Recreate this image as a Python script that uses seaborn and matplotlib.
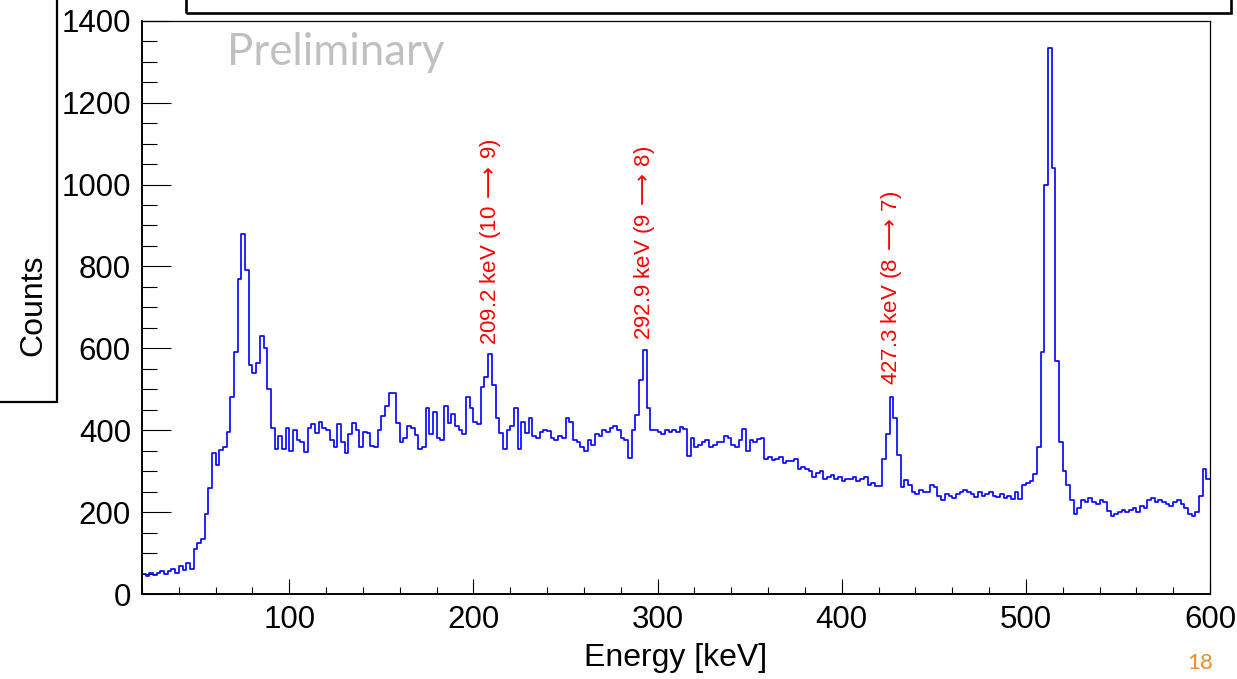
import numpy as np
import pandas as pd
import matplotlib
matplotlib.use("Agg")
import matplotlib.pyplot as plt
import seaborn as sns
from matplotlib.patches import Rectangle
from matplotlib.ticker import MultipleLocator

# spectrum, 2 keV bins from 20 to 600 keV
e_min = 20
e_max = 600
bin_width = 2
counts = [
    48, 45, 52, 46, 52, 55, 50, 57, 60, 52,            # 20-38
    68, 58, 75, 62, 110, 125, 135, 195, 260, 345,      # 40-58
    315, 352, 360, 395, 480, 590, 770, 880, 790, 560,  # 60-78
    540, 565, 630, 600, 500, 405, 355, 385, 355, 405,  # 80-98
    350, 400, 375, 370, 346, 406, 415, 394, 419, 405,  # 100-118
    400, 375, 360, 414, 370, 345, 390, 418, 400, 358,  # 120-138
    395, 392, 362, 360, 400, 435, 460, 492, 490, 417,  # 140-158
    370, 380, 410, 405, 388, 355, 360, 455, 390, 445,  # 160-178
    380, 375, 460, 418, 440, 410, 400, 390, 480, 455,  # 180-198
    420, 415, 505, 530, 585, 510, 431, 394, 353, 400,  # 200-218
    410, 455, 353, 421, 394, 431, 385, 380, 395, 400,  # 220-238
    397, 380, 375, 385, 380, 431, 420, 375, 370, 360,  # 240-258
    350, 375, 365, 390, 385, 400, 395, 405, 410, 400,  # 260-278
    380, 375, 333, 400, 438, 523, 596, 455, 400, 400,  # 280-298
    395, 390, 400, 395, 400, 395, 409, 404, 338, 382,  # 300-318
    360, 365, 370, 375, 360, 365, 370, 372, 385, 380,  # 320-338
    365, 360, 375, 404, 350, 375, 370, 378, 382, 330,  # 340-358
    335, 328, 330, 335, 320, 325, 325, 330, 305, 310,  # 360-378
    305, 300, 285, 295, 300, 280, 285, 290, 280, 285,  # 380-398
    275, 280, 280, 285, 275, 280, 285, 265, 270, 263,  # 400-418
    263, 330, 390, 482, 430, 340, 262, 278, 265, 250,  # 420-438
    245, 255, 250, 248, 265, 262, 240, 230, 245, 240,  # 440-458
    235, 245, 250, 255, 250, 245, 238, 250, 240, 245,  # 460-478
    248, 240, 238, 245, 235, 240, 232, 250, 231, 265,  # 480-498
    270, 275, 292, 360, 590, 1000, 1334, 1040, 570, 370,  # 500-518
    300, 265, 230, 195, 210, 230, 225, 235, 225, 220,  # 520-538
    230, 225, 202, 190, 195, 200, 205, 200, 205, 210,  # 540-558
    200, 215, 210, 230, 235, 225, 230, 225, 220, 215,  # 560-578
    225, 230, 220, 210, 195, 190, 200, 240, 305, 280,  # 580-598
]
peak_energies = [209.2, 292.9, 427.3]
peak_labels = ["209.2 keV (10$\\,\\longrightarrow\\,$9)", "292.9 keV (9$\\,\\longrightarrow\\,$8)",
               "427.3 keV (8$\\,\\longrightarrow\\,$7)"]
label_bottoms = [608, 620, 510]

centers = np.arange(e_min, e_max, bin_width) + bin_width / 2
assert len(counts) == len(centers)
df = pd.DataFrame({"energy": centers, "counts": counts})

sns.set_style("ticks")
plt.rcParams["font.family"] = ["Liberation Sans", "DejaVu Sans"]
plt.rcParams["text.color"] = "black"
plt.rcParams["axes.labelcolor"] = "black"
plt.rcParams["xtick.color"] = "black"
plt.rcParams["ytick.color"] = "black"
plt.rcParams["mathtext.fontset"] = "dejavusans"

fig = plt.figure(figsize=(12.37, 6.79), dpi=100)
ax = fig.add_axes([142 / 1237, 1 - 594 / 679, 1068 / 1237, (594 - 20.7) / 679])

sns.histplot(data=df, x="energy", weights="counts", binwidth=bin_width,
             binrange=(e_min, e_max), element="step", fill=False,
             color="#0000ff", linewidth=1.2, ax=ax)

ax.set_xlim(e_min, e_max)
ax.set_ylim(0, 1400)
ax.xaxis.set_major_locator(MultipleLocator(100))
ax.xaxis.set_minor_locator(MultipleLocator(20))
ax.yaxis.set_major_locator(MultipleLocator(200))
ax.yaxis.set_minor_locator(MultipleLocator(50))
ax.tick_params(axis="both", which="both", direction="in", width=0.8, color="black",
               labelcolor="black", labelsize=22.5, top=False, right=False)
ax.tick_params(axis="y", which="major", length=21, pad=8)
ax.tick_params(axis="y", which="minor", length=11)
ax.tick_params(axis="x", which="major", length=11, pad=8)
ax.tick_params(axis="x", which="minor", length=5)
for side in ["left", "bottom"]:
    ax.spines[side].set_linewidth(1.4)
    ax.spines[side].set_color("black")
for side in ["top", "right"]:
    ax.spines[side].set_visible(True)
    ax.spines[side].set_linewidth(0.9)
    ax.spines[side].set_color("black")

ax.set_xlabel("Energy [keV]", fontsize=23, va="top", color="black")
ax.xaxis.set_label_coords(0.5, -0.085)
ax.set_ylabel("Counts", fontsize=23, color="black")
ax.yaxis.set_label_coords(-0.088, 0.504)

ax.text(0.08, 0.945, "Preliminary", transform=ax.transAxes, fontsize=31.5,
        family="Lato", color="#c0c0c0", va="center", ha="left")

for e, lab, yb in zip(peak_energies, peak_labels, label_bottoms):
    ax.text(e, yb, lab, rotation=90, ha="center", va="bottom", fontsize=16,
            color="red")

# boxes cut by the page edge
fig.patches.append(Rectangle((186 / 1237, 1 - 13 / 679), 1045 / 1237, 0.05,
                             transform=fig.transFigure, fill=False, lw=1.9,
                             edgecolor="black", clip_on=False))
fig.patches.append(Rectangle((-0.01, 1 - 402 / 679), 0.01 + 57 / 1237, 0.7,
                             transform=fig.transFigure, fill=False, lw=1.6,
                             edgecolor="black", clip_on=False))

fig.text(1200 / 1237, 1 - 663 / 679, "18", fontsize=16, family="Lato",
         color="#ec8a2c", ha="center", va="center")

fig.savefig("out.png", dpi=100)
